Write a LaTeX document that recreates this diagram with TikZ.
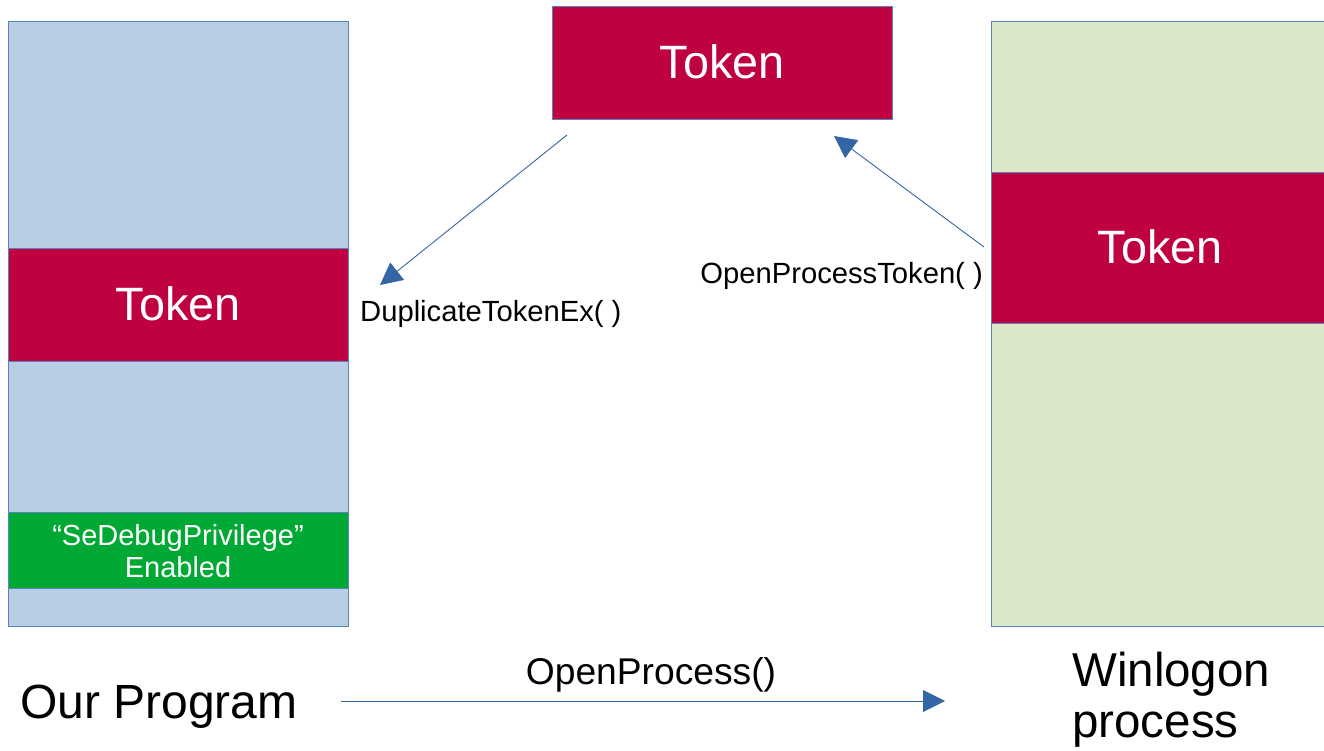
\documentclass[tikz,border=0pt]{standalone}
\usepackage{fontspec}
\setmainfont{Liberation Sans}
\usetikzlibrary{arrows.meta}
\definecolor{procblue}{HTML}{B7CEE5}
\definecolor{procgreen}{HTML}{D9E8CB}
\definecolor{tokenred}{HTML}{BF0041}
\definecolor{privgreen}{HTML}{00A933}
\definecolor{edgeblue}{HTML}{5983C0}
\definecolor{arrowblue}{HTML}{3465A4}
\tikzset{
  region/.style={draw=edgeblue, line width=0.9pt, inner sep=0pt, outer sep=0pt},
  tokentext/.style={text=white, font=\fontsize{46.8}{56}\selectfont, anchor=base, inner sep=0pt},
  calltext/.style={text=black, font=\fontsize{29.2}{35}\selectfont, anchor=base, inner sep=0pt},
  bigtext/.style={text=black, inner sep=0pt},
  flow/.style={draw=arrowblue, line width=0.9pt, -{Triangle[length=22pt,width=22pt]}}
}
\begin{document}
\begin{tikzpicture}[x=1pt,y=-1pt]
\useasboundingbox (0,0) rectangle (1324,750);
\clip (0,0) rectangle (1324,750);

% our program
\path[region, fill=procblue] (8,21) rectangle (348,626);
\path[region, fill=tokenred] (8,248) rectangle (348,361);
\path[region, fill=privgreen] (8,512) rectangle (348,588);
\node (ourtok) [tokentext] at (178,320) {Token};
\node (priv) [text=white, font=\fontsize{29}{32}\selectfont, align=center, inner sep=0pt, anchor=base] at (178,577) {“SeDebugPrivilege”\\Enabled};

% winlogon process
\path[region, fill=procgreen] (991,21) rectangle (1329,626);
\path[region, fill=tokenred] (991,172) rectangle (1329,323);
\node (wintok) [tokentext] at (1160,263) {Token};

% duplicated token
\path[region, fill=tokenred] (552,6) rectangle (892,119);
\node (duptok) [tokentext] at (722,78) {Token};

% labels
\node (ourprog) [bigtext, font=\fontsize{48}{55}\selectfont, anchor=base west] at (20,718) {Our Program};
\node (winlogon) [bigtext, font=\fontsize{47.5}{51}\selectfont, anchor=base west] at (1072,686) {Winlogon};
\node (winproc) [bigtext, font=\fontsize{47.5}{51}\selectfont, anchor=base west] at (1072,737) {process};
\node (opencall) [bigtext, font=\fontsize{37.2}{43}\selectfont, anchor=base] at (651,684) {OpenProcess()};
\node (dupcall) [calltext, anchor=base west] at (360,321) {DuplicateTokenEx( )};
\node (optcall) [calltext, anchor=base east] at (983,283) {OpenProcessToken( )};

% connectors
\coordinate (dupfrom) at (567,135);
\coordinate (dupto) at (380,285);
\coordinate (optfrom) at (984,247);
\coordinate (optto) at (834,136);
\coordinate (opfrom) at (341,701);
\coordinate (opto) at (945,701);
\draw[flow] (dupfrom) -- (dupto);
\draw[flow] (optfrom) -- (optto);
\draw[flow] (opfrom) -- (opto);
\end{tikzpicture}
\end{document}
